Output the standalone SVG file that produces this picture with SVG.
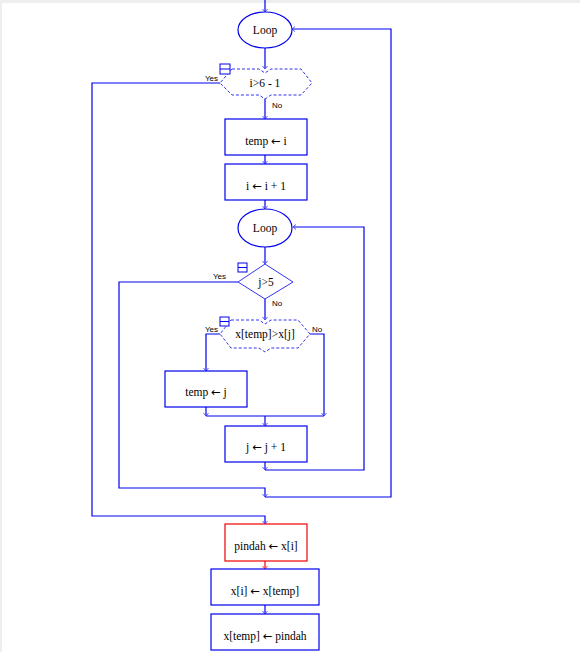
<svg xmlns="http://www.w3.org/2000/svg" width="580" height="652" viewBox="0 0 580 652">
<style>
.ln{fill:none;stroke:#0000ee;stroke-width:1.2}
.red{fill:none;stroke:#ee0000;stroke-width:1.2}
.bx{fill:#fff;stroke:#0000ee;stroke-width:1.2}
.bxr{fill:#fff;stroke:#ee0000;stroke-width:1.2}
.dash{fill:#fff;stroke:#3333ee;stroke-width:1;stroke-dasharray:3,2}
.dia{fill:#fff;stroke:#3333ee;stroke-width:1}
.t{font-family:'Liberation Serif','DejaVu Serif',serif;font-size:11.5px;fill:#000;text-anchor:middle}
.a{font-family:'DejaVu Sans',sans-serif;font-size:11.5px}
.s{font-family:'Liberation Sans','DejaVu Sans',sans-serif;font-size:8px;fill:#000}
.ic{fill:#fff;stroke:#0000ee;stroke-width:1}
</style>
<defs>
<marker id="ah" markerWidth="8" markerHeight="8" refX="4" refY="4" orient="auto" markerUnits="userSpaceOnUse">
<path d="M1,1.5 L4,4 L1,6.5" fill="none" stroke="#5555ff" stroke-width="1"/>
</marker>
<marker id="ahr" markerWidth="8" markerHeight="8" refX="4" refY="4" orient="auto" markerUnits="userSpaceOnUse">
<path d="M1,1.5 L4,4 L1,6.5" fill="none" stroke="#ff4444" stroke-width="1"/>
</marker>
</defs>
<rect width="580" height="652" fill="#fff"/>
<rect x="0" y="0" width="580" height="3" fill="#eeeeee"/>
<rect x="0" y="0" width="2" height="652" fill="#eeeeee"/>
<g id="connectors">
<path class="ln" d="M265,0 V12" marker-end="url(#ah)"/>
<path class="ln" d="M265,48 V69" marker-end="url(#ah)"/>
<path class="ln" d="M265,97 V119" marker-end="url(#ah)"/>
<path class="ln" d="M265,155 V164" marker-end="url(#ah)"/>
<path class="ln" d="M265,200 V209" marker-end="url(#ah)"/>
<path class="ln" d="M265,247 V264" marker-end="url(#ah)"/>
<path class="ln" d="M265,299 V320" marker-end="url(#ah)"/>
<path class="ln" d="M220,334 H206 V371" marker-end="url(#ah)"/>
<path class="ln" d="M310,334 H324 V416" marker-end="url(#ah)"/>
<path class="ln" d="M206,407 V416" marker-end="url(#ah)"/>
<path class="ln" d="M206,416 H324"/>
<path class="ln" d="M265,416 V426" marker-end="url(#ah)"/>
<path class="ln" d="M265,462 V470" marker-end="url(#ah)"/>
<path class="ln" d="M265,470 H364 V227 H293" marker-end="url(#ah)"/>
<path class="ln" d="M238,282 H119 V488 H265 V497" marker-end="url(#ah)"/>
<path class="ln" d="M265,497 H391 V29 H292" marker-end="url(#ah)"/>
<path class="ln" d="M220,83 H92 V516 H265 V524" marker-end="url(#ah)"/>
<path class="red" d="M265,561 V569" marker-end="url(#ahr)"/>
<path class="ln" d="M265,605 V614" marker-end="url(#ah)"/>
</g>
<g id="loop1">
<ellipse class="bx" cx="265" cy="30" rx="27" ry="18"/>
<text class="t" x="265" y="34">Loop</text>
</g>
<g id="cond1">
<path class="dash" d="M232,69 H259 L265,73 L271,69 H301 L312,83 L301,95 H271 L265,99 L259,95 H232 L220,83 Z"/>
<rect class="ic" x="220" y="64" width="10" height="10"/>
<path class="ic" d="M220,69 H230"/>
<text class="t" x="265" y="87">i&gt;6 - 1</text>
<text class="s" x="205" y="81">Yes</text>
<text class="s" x="272" y="108">No</text>
</g>
<g id="tempi">
<rect class="bx" x="225" y="119" width="82" height="36"/>
<text class="t" x="266" y="145">temp <tspan class="a">←</tspan> i</text>
</g>
<g id="inc-i">
<rect class="bx" x="225" y="164" width="82" height="36"/>
<text class="t" x="266" y="190">i <tspan class="a">←</tspan> i + 1</text>
</g>
<g id="loop2">
<ellipse class="bx" cx="265" cy="228" rx="27" ry="19"/>
<text class="t" x="265" y="232">Loop</text>
</g>
<g id="cond2">
<path class="dia" d="M265,264 L293,282 L265,299 L238,282 Z"/>
<rect class="ic" x="238" y="263" width="9" height="9"/>
<path class="ic" d="M238,267.5 H247"/>
<text class="t" x="266" y="286">j&gt;5</text>
<text class="s" x="213" y="279">Yes</text>
<text class="s" x="272" y="306">No</text>
</g>
<g id="cond3">
<path class="dash" d="M231,320 H259 L265,324 L271,320 H298 L310,334 L298,348 H271 L265,352 L259,348 H231 L220,334 Z"/>
<rect class="ic" x="220" y="317" width="9" height="9"/>
<path class="ic" d="M220,321.5 H229"/>
<text class="t" x="265" y="338">x[temp]&gt;x[j]</text>
<text class="s" x="205" y="332">Yes</text>
<text class="s" x="312" y="332">No</text>
</g>
<g id="tempj">
<rect class="bx" x="165" y="371" width="82" height="36"/>
<text class="t" x="206" y="396">temp <tspan class="a">←</tspan> j</text>
</g>
<g id="inc-j">
<rect class="bx" x="225" y="426" width="82" height="36"/>
<text class="t" x="266" y="451">j <tspan class="a">←</tspan> j + 1</text>
</g>
<g id="pindah">
<rect class="bxr" x="225" y="524" width="82" height="37"/>
<text class="t" x="266" y="550">pindah <tspan class="a">←</tspan> x[i]</text>
</g>
<g id="xi">
<rect class="bx" x="211" y="569" width="108" height="36"/>
<text class="t" x="265" y="595">x[i] <tspan class="a">←</tspan> x[temp]</text>
</g>
<g id="xtemp">
<rect class="bx" x="211" y="614" width="108" height="36"/>
<text class="t" x="265" y="640">x[temp] <tspan class="a">←</tspan> pindah</text>
</g>
</svg>
